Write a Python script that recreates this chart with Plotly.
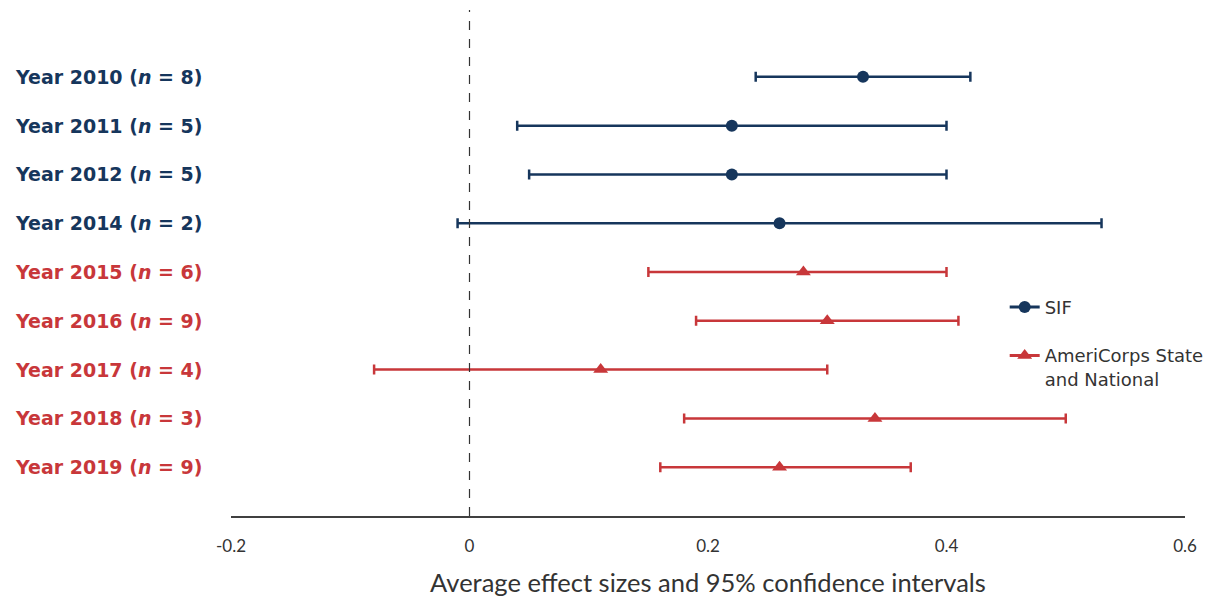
import plotly.graph_objects as go

years = ["2010", "2011", "2012", "2014", "2015", "2016", "2017", "2018", "2019"]
n_vals = [8, 5, 5, 2, 6, 9, 4, 3, 9]
program = ["SIF", "SIF", "SIF", "SIF", "AC", "AC", "AC", "AC", "AC"]
effect = [0.33, 0.22, 0.22, 0.26, 0.28, 0.30, 0.11, 0.34, 0.26]
ci_low = [0.24, 0.04, 0.05, -0.01, 0.15, 0.19, -0.08, 0.18, 0.16]
ci_high = [0.42, 0.40, 0.40, 0.53, 0.40, 0.41, 0.30, 0.50, 0.37]
x_ticks = [-0.2, 0, 0.2, 0.4, 0.6]
x_ticklabels = ["-0.2", "0", "0.2", "0.4", "0.6"]

NAVY = "#16365c"
RED = "#c8373a"

fig = go.Figure()

groups = [("SIF", NAVY, "circle", 12, "SIF"),
          ("AC", RED, "triangle-up", 13, "AmeriCorps State<br>and National")]
for gi, (key, color, symbol, size, name) in enumerate(groups):
    idx = [i for i, p in enumerate(program) if p == key]
    xs = [effect[i] for i in idx]
    ys = [years[i] for i in idx]
    plus = [ci_high[i] - effect[i] for i in idx]
    minus = [effect[i] - ci_low[i] for i in idx]
    fig.add_trace(go.Scatter(
        x=xs, y=ys, mode="markers", showlegend=False,
        marker=dict(color=color, symbol=symbol, size=size),
        error_x=dict(type="data", symmetric=False, array=plus, arrayminus=minus,
                     color=color, thickness=2.5, width=5),
    ))
    fig.add_trace(go.Scatter(
        x=[None], y=[None], mode="lines+markers", name=name, legendgroup=f"g{gi}",
        line=dict(color=color, width=3),
        marker=dict(color=color, symbol=symbol, size=size),
    ))

# zero reference line
fig.add_shape(type="line", xref="x", yref="paper", x0=0, x1=0, y0=0, y1=1,
              line=dict(color="#333333", width=1.2, dash="dash"))

for i, y in enumerate(years):
    color = NAVY if program[i] == "SIF" else RED
    fig.add_annotation(
        x=-0.2285, xref="paper", y=i, yref="y", xanchor="left", yanchor="middle",
        text=f"<b>Year {y} (<i>n</i> = {n_vals[i]})</b>", showarrow=False,
        font=dict(family="DejaVu Sans", size=19, color=color),
    )

fig.update_layout(
    width=1222, height=598,
    margin=dict(l=223, r=45, t=2, b=90),
    plot_bgcolor="white", paper_bgcolor="white",
    font=dict(family="Open Sans", color="#333333"),
    legend=dict(x=0.811, y=0.449, xanchor="left", yanchor="top",
                font=dict(family="DejaVu Sans", size=18, color="#333333"),
                valign="top", bgcolor="rgba(0,0,0,0)",
                traceorder="grouped", tracegroupgap=22),
    xaxis=dict(range=[-0.2, 0.6], tickvals=x_ticks, ticktext=x_ticklabels,
               showgrid=False, zeroline=False, showline=True,
               linecolor="#404040", linewidth=1.5,
               ticks="outside", ticklen=14, tickcolor="rgba(0,0,0,0)",
               tickfont=dict(family="Lato", size=17, color="#333333"),
               title=dict(text="Average effect sizes and 95% confidence intervals",
                          font=dict(family="Lato", size=25.5, color="#333333"),
                          standoff=19)),
    yaxis=dict(type="category", categoryorder="array", categoryarray=years,
               range=[9.0, -1.37], showticklabels=False, showgrid=False,
               zeroline=False, showline=False, ticks=""),
)

fig.write_html("out.html")
